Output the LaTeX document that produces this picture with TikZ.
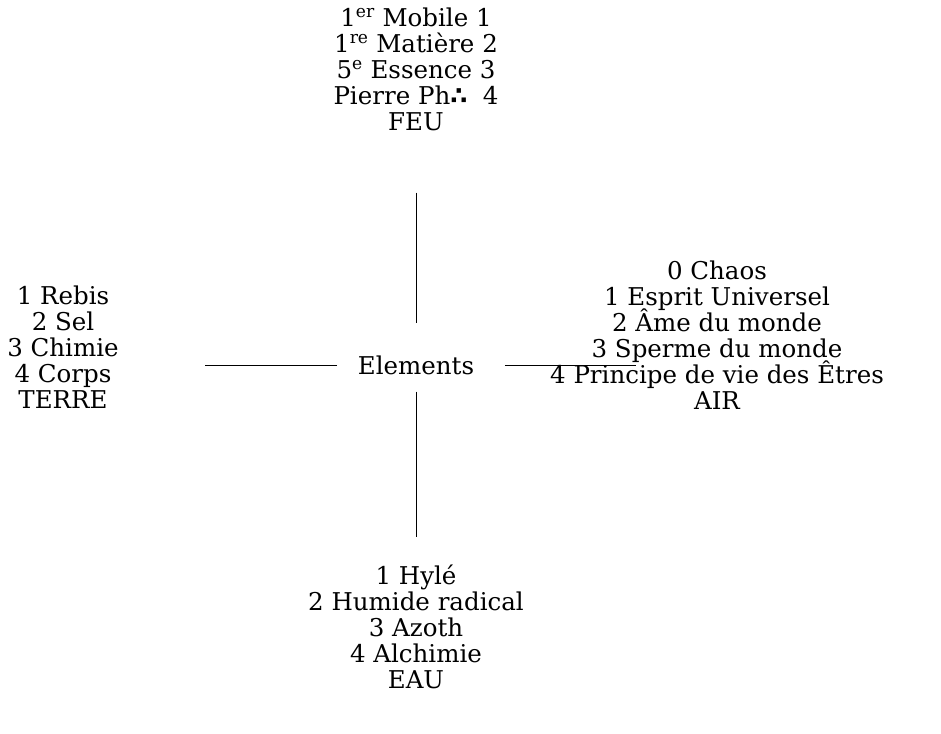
\documentclass[tikz,border=0pt]{standalone}
\usepackage{fontspec}
\setmainfont{DejaVu Serif}
\newfontfamily\symfont{DejaVu Sans}
\newcommand\blockfont{\fontsize{24.5}{26}\selectfont\lineskiplimit-20pt\relax}
\begin{document}
\begin{tikzpicture}[x=1pt, y=-1pt, every node/.style={align=center, inner sep=1pt, font=\blockfont}]
\useasboundingbox (0,0) rectangle (941,733);
\node (feu) at (416,69) {1\textsuperscript{er} Mobile 1\\1\textsuperscript{re} Matière 2\\5\textsuperscript{e} Essence 3\\Pierre Ph{\symfont\bfseries∴}\ \ 4\\FEU};
\node (terre) at (63,347) {1 Rebis\\2 Sel\\3 Chimie\\4 Corps\\TERRE};
\node (air) at (717,335) {0 Chaos\\1 Esprit Universel\\2 Âme du monde\\3 Sperme du monde\\4 Principe de vie des Êtres\\AIR};
\node (eau) at (416,627) {1 Hylé\\2 Humide radical\\3 Azoth\\4 Alchimie\\EAU};
\node (elements) at (416,365) {Elements};

\draw[shorten <=61pt, shorten >=31pt] (feu.south) -- (elements.north);
\draw[shorten <=16pt, shorten >=27pt] (elements.south) -- (eau.north);
\draw[shorten <=19.5pt, shorten >=85.5pt] (elements.west) -- (elements.west -| terre.east);
\draw[shorten <=29.5pt, shorten >=-87.5pt] (elements.east) -- (elements.east -| air.west);
\end{tikzpicture}
\end{document}
